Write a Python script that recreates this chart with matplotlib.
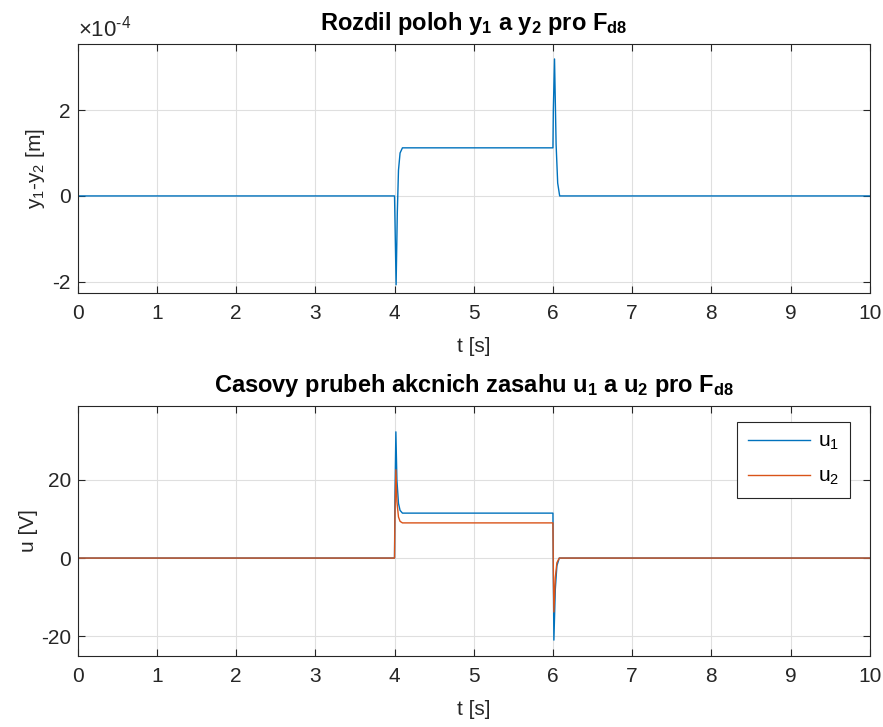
import matplotlib
matplotlib.use("Agg")
import matplotlib.pyplot as plt

plt.rcParams["font.family"] = ["Liberation Sans", "DejaVu Sans"]
plt.rcParams["mathtext.fontset"] = "custom"
plt.rcParams["mathtext.rm"] = "Liberation Sans"
plt.rcParams["mathtext.it"] = "Liberation Sans:italic"
plt.rcParams["mathtext.bf"] = "Liberation Sans:bold"
plt.rcParams["axes.unicode_minus"] = False

# breakpoints (time in s)
t_diff = [0, 4.0, 4.005, 4.02, 4.035, 4.05, 4.07, 4.1, 6.0, 6.005, 6.02, 6.04, 6.06, 6.085, 10]
# y1 - y2 in units of 1e-4 m
diff_e4 = [0, 0, -0.5, -2.07, -0.4, 0.6, 1.0, 1.12, 1.12, 2.0, 3.19, 1.2, 0.3, 0.0, 0]

t_u = [0, 4.0, 4.005, 4.017, 4.03, 4.05, 4.07, 4.1, 6.0, 6.005, 6.012, 6.03, 6.05, 6.08, 10]
u1 = [0, 0, 15.0, 32.3, 20.0, 14.0, 12.2, 11.5, 11.5, -5.0, -21.0, -8.0, -2.0, 0, 0]
u2 = [0, 0, 10.0, 22.6, 14.5, 10.5, 9.4, 9.0, 9.0, -3.0, -13.8, -5.0, -1.2, 0, 0]

blue = "#0072BD"
orange = "#D95319"
dark = "#262626"
tick_fs = 15
label_fs = 15
title_fs = 17

fig = plt.figure(figsize=(8.83, 7.27), dpi=100)
ax1 = fig.add_axes([0.088, 0.597, 0.897, 0.342])
ax2 = fig.add_axes([0.088, 0.098, 0.897, 0.344])


def style(ax):
    ax.set_xlim(0, 10)
    ax.set_xticks(range(0, 11))
    ax.grid(True, color="#dfdfdf", linewidth=0.8)
    ax.set_axisbelow(True)
    ax.tick_params(direction="in", top=True, right=True, length=5,
                   width=0.8, colors=dark, labelsize=tick_fs)
    ax.tick_params(axis="x", pad=8)
    ax.tick_params(axis="y", pad=5)
    for s in ax.spines.values():
        s.set_color(dark)
        s.set_linewidth(0.8)
    ax.set_xlabel("t [s]", fontsize=label_fs, color=dark, labelpad=10)


ax1.plot(t_diff, diff_e4, color=blue, linewidth=1.0)
ax1.set_ylim(-2.26, 3.53)
ax1.set_yticks([-2, 0, 2])
style(ax1)
ax1.set_ylabel(r"y$_1$-y$_2$ [m]", fontsize=label_fs, color=dark, labelpad=4)
ax1.set_title(r"Rozdil poloh y$_\mathbf{1}$ a y$_\mathbf{2}$ pro F$_\mathbf{d8}$",
              fontsize=title_fs, fontweight="bold", pad=10)
ax1.text(0.0, 1.01, r"$\times$10$^{\text{-}4}$", transform=ax1.transAxes,
         fontsize=tick_fs + 1, color=dark, ha="left", va="bottom")

ax2.plot(t_u, u1, color=blue, linewidth=1.0, label=r"u$_1$")
ax2.plot(t_u, u2, color=orange, linewidth=1.0, label=r"u$_2$")
ax2.set_ylim(-25, 39)
ax2.set_yticks([-20, 0, 20])
style(ax2)
ax2.set_ylabel("u [V]", fontsize=label_fs, color=dark, labelpad=2)
ax2.set_title(r"Casovy prubeh akcnich zasahu u$_\mathbf{1}$ a u$_\mathbf{2}$ pro F$_\mathbf{d8}$",
              fontsize=title_fs, fontweight="bold", pad=10)
leg = ax2.legend(loc="upper right", fontsize=tick_fs, fancybox=False,
                 edgecolor=dark, framealpha=1, handlelength=3.0,
                 handletextpad=0.4, borderpad=0.5, labelspacing=0.7,
                 borderaxespad=0, bbox_to_anchor=(0.975, 0.936))
leg.get_frame().set_linewidth(0.8)

fig.savefig("out.png", dpi=100)
